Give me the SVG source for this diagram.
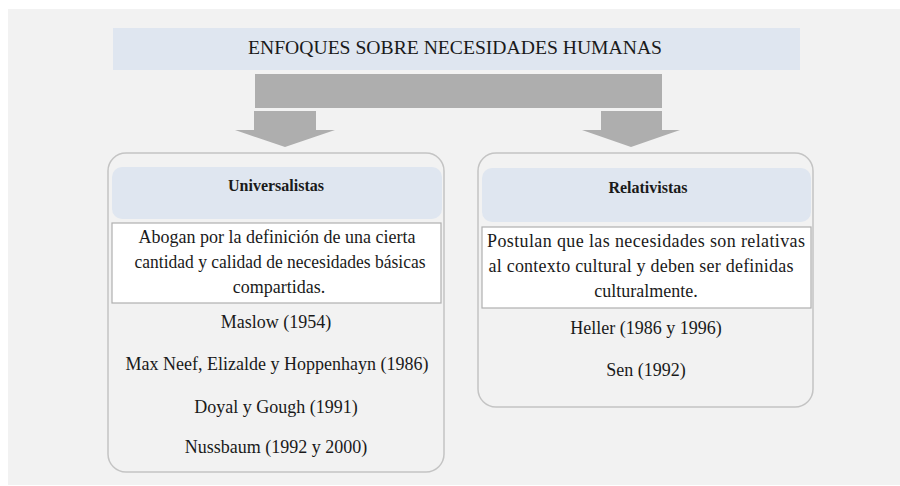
<svg xmlns="http://www.w3.org/2000/svg" width="900" height="486" viewBox="0 0 900 486">
  <style>
    .t { font-family: "Liberation Serif", "DejaVu Serif", serif; font-size: 18px; fill: #1a1a1a; text-anchor: middle; }
    .b { font-weight: bold; font-size: 16px; }
    .outer { fill: #f2f2f2; stroke: #c4c4c4; stroke-width: 1.5; }
    .head { fill: #dfe6f0; }
    .desc { fill: #ffffff; stroke: #b0b0b0; stroke-width: 1.2; }
    .arrow { fill: #aeaeae; }
  </style>
  <rect x="0" y="0" width="900" height="486" fill="#ffffff"/>
  <rect x="8" y="9" width="892" height="476" fill="#f2f2f2"/>

  <g id="title">
    <rect x="113" y="28" width="687" height="42" class="head"/>
    <text class="t" x="455" y="54" font-size="17" textLength="414" lengthAdjust="spacingAndGlyphs">ENFOQUES SOBRE NECESIDADES HUMANAS</text>
  </g>

  <g id="connectors">
    <rect class="arrow" x="255" y="74" width="407" height="34"/>
    <polygon class="arrow" points="254,111 316,111 316,130 335,130 285,147 235,130 254,130"/>
    <polygon class="arrow" points="601,111 662,111 662,130 680,130 631,147 582,130 601,130"/>
  </g>

  <g id="universalistas">
    <rect class="outer" x="108" y="153" width="336" height="319" rx="18"/>
    <rect class="head" x="112" y="167" width="330" height="52" rx="10"/>
    <text class="t b" x="276" y="191">Universalistas</text>
    <rect class="desc" x="112" y="223" width="329" height="80"/>
    <text class="t" x="277" y="243">Abogan por la definición de una cierta</text>
    <text class="t" x="280" y="268" textLength="291" lengthAdjust="spacingAndGlyphs">cantidad y calidad de necesidades básicas</text>
    <text class="t" x="279" y="293">compartidas.</text>
    <text class="t" x="276" y="328">Maslow (1954)</text>
    <text class="t" x="277" y="370">Max Neef, Elizalde y Hoppenhayn (1986)</text>
    <text class="t" x="276" y="413">Doyal y Gough (1991)</text>
    <text class="t" x="276" y="453">Nussbaum (1992 y 2000)</text>
  </g>

  <g id="relativistas">
    <rect class="outer" x="478" y="153" width="335" height="254" rx="18"/>
    <rect class="head" x="482" y="168" width="329" height="54" rx="10"/>
    <text class="t b" x="648" y="193">Relativistas</text>
    <rect class="desc" x="482" y="227" width="329" height="81"/>
    <text class="t" x="646" y="247" textLength="318" lengthAdjust="spacing">Postulan que las necesidades son relativas</text>
    <text class="t" x="641" y="272" textLength="305" lengthAdjust="spacing">al contexto cultural y deben ser definidas</text>
    <text class="t" x="646" y="297">culturalmente.</text>
    <text class="t" x="646" y="334">Heller (1986 y 1996)</text>
    <text class="t" x="646" y="376">Sen (1992)</text>
  </g>
</svg>
